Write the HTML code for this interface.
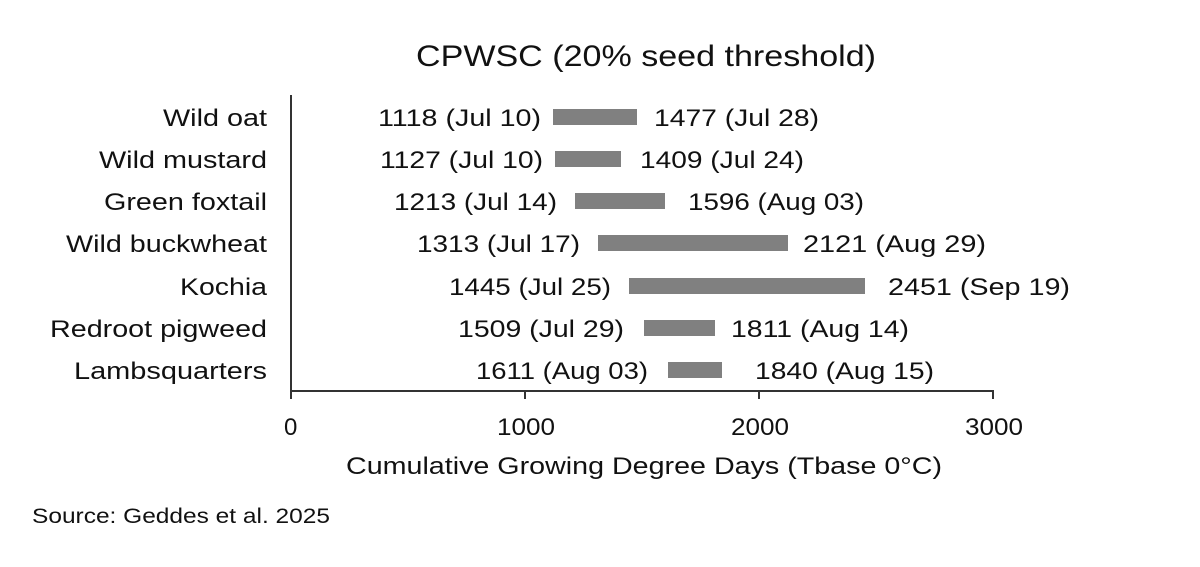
<!DOCTYPE html>
<html><head><style>body{margin:0;background:#fff}</style></head><body>
<svg width="1200" height="562" xmlns="http://www.w3.org/2000/svg" font-family="Liberation Sans, Arial, sans-serif" fill="#111">
<rect width="1200" height="562" fill="#fff"/>
<text x="416" y="66" font-size="30" textLength="460" lengthAdjust="spacingAndGlyphs">CPWSC (20% seed threshold)</text>
<g stroke="#333" stroke-width="2" fill="none">
<line x1="291" y1="95" x2="291" y2="399"/>
<line x1="290" y1="391" x2="994" y2="391"/>
<line x1="525" y1="391" x2="525" y2="399"/>
<line x1="759" y1="391" x2="759" y2="399"/>
<line x1="993" y1="391" x2="993" y2="399"/>
</g>
<g font-size="24" lengthAdjust="spacingAndGlyphs">
<text x="284" y="435">0</text>
<text x="497" y="435" textLength="58" lengthAdjust="spacingAndGlyphs">1000</text>
<text x="731" y="435" textLength="58" lengthAdjust="spacingAndGlyphs">2000</text>
<text x="965" y="435" textLength="58" lengthAdjust="spacingAndGlyphs">3000</text>
</g>
<text x="346" y="474" font-size="24" textLength="596" lengthAdjust="spacingAndGlyphs">Cumulative Growing Degree Days (Tbase 0°C)</text>
<text x="32" y="523" font-size="21" textLength="298" lengthAdjust="spacingAndGlyphs">Source: Geddes et al. 2025</text>
<g font-size="24">
<text x="163" y="126" textLength="104" lengthAdjust="spacingAndGlyphs">Wild oat</text>
<text x="99" y="168" textLength="168" lengthAdjust="spacingAndGlyphs">Wild mustard</text>
<text x="104" y="210" textLength="163" lengthAdjust="spacingAndGlyphs">Green foxtail</text>
<text x="66" y="252" textLength="201" lengthAdjust="spacingAndGlyphs">Wild buckwheat</text>
<text x="180" y="295" textLength="87" lengthAdjust="spacingAndGlyphs">Kochia</text>
<text x="50" y="337" textLength="217" lengthAdjust="spacingAndGlyphs">Redroot pigweed</text>
<text x="74" y="379" textLength="193" lengthAdjust="spacingAndGlyphs">Lambsquarters</text>
</g>
<g fill="#808080">
<rect x="553" y="109" width="84" height="16"/>
<rect x="555" y="151" width="66" height="16"/>
<rect x="575" y="193" width="90" height="16"/>
<rect x="598" y="235" width="190" height="16"/>
<rect x="629" y="278" width="236" height="16"/>
<rect x="644" y="320" width="71" height="16"/>
<rect x="668" y="362" width="54" height="16"/>
</g>
<g font-size="24">
<text x="378" y="126" textLength="163" lengthAdjust="spacingAndGlyphs">1118 (Jul 10)</text>
<text x="380" y="168" textLength="163" lengthAdjust="spacingAndGlyphs">1127 (Jul 10)</text>
<text x="394" y="210" textLength="163" lengthAdjust="spacingAndGlyphs">1213 (Jul 14)</text>
<text x="417" y="252" textLength="163" lengthAdjust="spacingAndGlyphs">1313 (Jul 17)</text>
<text x="449" y="295" textLength="162" lengthAdjust="spacingAndGlyphs">1445 (Jul 25)</text>
<text x="458" y="337" textLength="166" lengthAdjust="spacingAndGlyphs">1509 (Jul 29)</text>
<text x="476" y="379" textLength="172" lengthAdjust="spacingAndGlyphs">1611 (Aug 03)</text>
<text x="654" y="126" textLength="165" lengthAdjust="spacingAndGlyphs">1477 (Jul 28)</text>
<text x="640" y="168" textLength="164" lengthAdjust="spacingAndGlyphs">1409 (Jul 24)</text>
<text x="688" y="210" textLength="176" lengthAdjust="spacingAndGlyphs">1596 (Aug 03)</text>
<text x="803" y="252" textLength="183" lengthAdjust="spacingAndGlyphs">2121 (Aug 29)</text>
<text x="888" y="295" textLength="182" lengthAdjust="spacingAndGlyphs">2451 (Sep 19)</text>
<text x="731" y="337" textLength="178" lengthAdjust="spacingAndGlyphs">1811 (Aug 14)</text>
<text x="755" y="379" textLength="179" lengthAdjust="spacingAndGlyphs">1840 (Aug 15)</text>
</g>
</svg>
</body></html>
